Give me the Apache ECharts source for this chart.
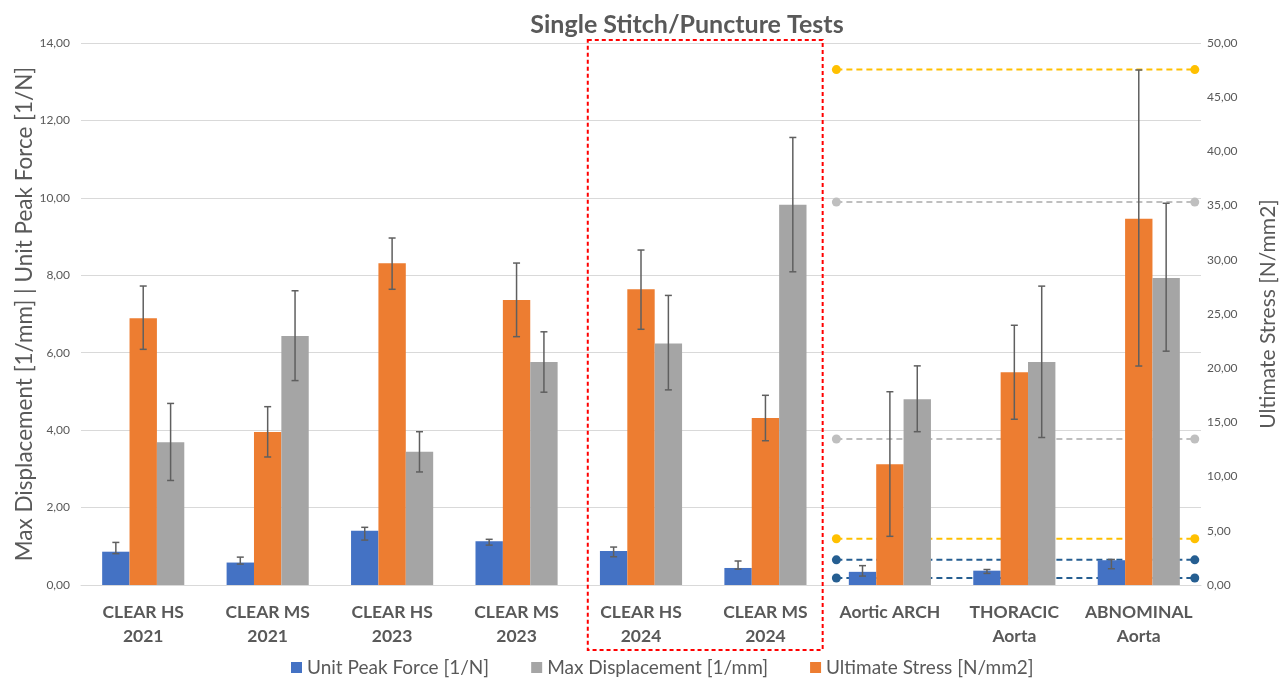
<!DOCTYPE html>
<html>
<head>
<meta charset="utf-8">
<script src="https://cdn.jsdelivr.net/npm/echarts@6/dist/echarts.min.js"></script>
<style>
html,body{margin:0;padding:0;background:#fff;}
#chart{width:1286px;height:686px;}
</style>
</head>
<body>
<div id="chart"></div>
<script>
// ---- data ----
const categories = ['CLEAR HS\n2021', 'CLEAR MS\n2021', 'CLEAR HS\n2023', 'CLEAR MS\n2023', 'CLEAR HS\n2024', 'CLEAR MS\n2024', 'Aortic ARCH', 'THORACIC\nAorta', 'ABNOMINAL\nAorta'];
const seriesNames = ['Unit Peak Force [1/N]', 'Max Displacement [1/mm]', 'Ultimate Stress [N/mm2]'];

const peakForce     = [0.86, 0.58, 1.40, 1.13, 0.88, 0.44, 0.34, 0.37, 0.64];
const peakForceLow  = [0.81, 0.54, 1.16, 1.03, 0.73, 0.41, 0.23, 0.30, 0.42];
const peakForceHigh = [1.10, 0.72, 1.49, 1.18, 0.98, 0.62, 0.50, 0.40, 0.66];

const displacement     = [3.69, 6.43, 3.44, 5.76, 6.24, 9.82, 4.80, 5.76, 7.93];
const displacementLow  = [2.70, 5.28, 2.92, 4.98, 5.04, 8.09, 3.96, 3.81, 6.04];
const displacementHigh = [4.69, 7.60, 3.96, 6.54, 7.48, 11.56, 5.66, 7.72, 9.86];

const stress     = [24.60, 14.11, 29.68, 26.29, 27.28, 15.41, 11.13, 19.62, 33.79];
const stressLow  = [21.74, 11.81, 27.28, 22.91, 23.59, 13.31, 4.49, 15.29, 20.20];
const stressHigh = [27.58, 16.45, 32.01, 29.70, 30.90, 17.50, 17.83, 23.96, 47.51];

// reference range lines (x in category units on a hidden value axis)
const refX = [6.07, 8.95];
const stressRefLevels = [47.55, 4.27];      // right axis
const displacementRefLevels = [9.89, 3.77]; // left axis
const forceRefLevels = [0.65, 0.18];        // left axis

const leftTicks = {min: 0, max: 14, interval: 2};
const rightTicks = {min: 0, max: 50, interval: 5};

// ---- style ----
const FONT = 'Lato, "Open Sans", sans-serif';
const TXT = '#595959';
const C_BLUE = '#4472C4', C_ORANGE = '#ED7D31', C_GRAY = '#A5A5A5';
const C_YEL = '#FFC000', C_LGRAY = '#BFBFBF', C_DBLUE = '#255E91';
const GAP = 0.34;

function errSeries(name, low, high, yIdx, slot) {
  return {
    type: 'custom', name: name + ' err', yAxisIndex: yIdx, xAxisIndex: 0, z: 5, silent: true,
    data: low.map((l, i) => [i, l, high[i]]),
    renderItem: function (params, api) {
      const band = api.size([1, 0])[0];
      const bw = band * (1 - GAP) / 3;
      const cx = api.coord([api.value(0), 0])[0] + (slot - 1) * bw;
      const y1 = api.coord([api.value(0), api.value(1)])[1];
      const y2 = api.coord([api.value(0), api.value(2)])[1];
      const st = {stroke: '#5f5f5f', lineWidth: 1.5};
      return {type: 'group', children: [
        {type: 'line', shape: {x1: cx, y1: y1, x2: cx, y2: y2}, style: st},
        {type: 'line', shape: {x1: cx - 3.5, y1: y1, x2: cx + 3.5, y2: y1}, style: st},
        {type: 'line', shape: {x1: cx - 3.5, y1: y2, x2: cx + 3.5, y2: y2}, style: st}
      ]};
    }
  };
}

function refLine(level, color, yIdx) {
  return {
    type: 'line', xAxisIndex: 1, yAxisIndex: yIdx, z: 1, silent: true,
    data: refX.map(x => [x, level]),
    symbol: 'circle', symbolSize: 9,
    itemStyle: {color: color},
    lineStyle: {color: color, width: 2, type: [6, 4]}
  };
}

const fmt = v => v.toFixed(2).replace('.', ',');

const chart = echarts.init(document.getElementById('chart'), null, {renderer: 'canvas'});
const option = {
  animation: false,
  backgroundColor: '#fff',
  textStyle: {fontFamily: FONT},
  title: {
    text: 'Single Stitch/Puncture Tests', left: 682, top: 7, textAlign: 'center',
    textStyle: {fontFamily: FONT, fontSize: 25, fontWeight: 'bold', color: TXT}
  },
  legend: {
    data: seriesNames, bottom: 4, left: 286, icon: 'rect', itemWidth: 11, itemHeight: 11, itemGap: 42,
    textStyle: {fontFamily: FONT, fontSize: 19, color: TXT}
  },
  grid: {left: 81, right: 85, top: 43, bottom: 101, containLabel: false, outerBoundsMode: 'none'},
  xAxis: [
    {
      type: 'category', data: categories,
      axisLine: {show: true, lineStyle: {color: '#D9D9D9'}}, axisTick: {show: false},
      axisLabel: {fontFamily: FONT, fontSize: 17.5, fontWeight: 'bold', color: TXT, lineHeight: 24, margin: 15, interval: 0}
    },
    {type: 'value', min: 0, max: 9, show: false}
  ],
  yAxis: [
    {
      type: 'value', min: leftTicks.min, max: leftTicks.max, interval: leftTicks.interval,
      name: 'Max Displacement [1/mm] | Unit Peak Force [1/N]', nameLocation: 'middle', nameGap: 45, nameRotate: 90,
      nameMoveOverlap: false,
      nameTextStyle: {fontFamily: FONT, fontSize: 22.5, color: TXT},
      axisLabel: {formatter: fmt, fontFamily: FONT, fontSize: 12, color: TXT, margin: 11},
      axisLine: {show: false}, axisTick: {show: false},
      splitLine: {lineStyle: {color: '#D9D9D9', width: 1}}
    },
    {
      type: 'value', min: rightTicks.min, max: rightTicks.max, interval: rightTicks.interval, position: 'right',
      name: 'Ultimate Stress [N/mm2]', nameLocation: 'middle', nameGap: 57, nameRotate: 90,
      nameMoveOverlap: false,
      nameTextStyle: {fontFamily: FONT, fontSize: 21, color: TXT},
      axisLabel: {formatter: fmt, fontFamily: FONT, fontSize: 12, color: TXT, margin: 6},
      axisLine: {show: false}, axisTick: {show: false},
      splitLine: {show: false}
    }
  ],
  series: [
    refLine(stressRefLevels[0], C_YEL, 1),
    refLine(stressRefLevels[1], C_YEL, 1),
    refLine(displacementRefLevels[0], C_LGRAY, 0),
    refLine(displacementRefLevels[1], C_LGRAY, 0),
    refLine(forceRefLevels[0], C_DBLUE, 0),
    refLine(forceRefLevels[1], C_DBLUE, 0),
    {name: seriesNames[0], type: 'bar', data: peakForce, yAxisIndex: 0, z: 2, itemStyle: {color: C_BLUE}, barGap: '0%', barCategoryGap: (GAP * 100) + '%'},
    {name: seriesNames[2], type: 'bar', data: stress, yAxisIndex: 1, z: 2, itemStyle: {color: C_ORANGE}, barGap: '0%', barCategoryGap: (GAP * 100) + '%'},
    {name: seriesNames[1], type: 'bar', data: displacement, yAxisIndex: 0, z: 2, itemStyle: {color: C_GRAY}, barGap: '0%', barCategoryGap: (GAP * 100) + '%'},
    errSeries('force', peakForceLow, peakForceHigh, 0, 0),
    errSeries('stress', stressLow, stressHigh, 1, 1),
    errSeries('disp', displacementLow, displacementHigh, 0, 2)
  ]
};
chart.setOption(option);

// red dashed highlight box around the 2024 groups
const highlight = [4, 5];
const band = chart.convertToPixel({xAxisIndex: 0}, 1) - chart.convertToPixel({xAxisIndex: 0}, 0);
const xL = chart.convertToPixel({xAxisIndex: 0}, highlight[0]) - band / 2 + 9;
const xR = chart.convertToPixel({xAxisIndex: 0}, highlight[1]) + band / 2 - 5;
const yT = chart.convertToPixel({yAxisIndex: 0}, leftTicks.max) - 3;
const yB = chart.convertToPixel({yAxisIndex: 0}, leftTicks.min) + 65;
chart.setOption({
  graphic: [{
    type: 'rect', z: 10, silent: true,
    shape: {x: xL, y: yT, width: xR - xL, height: yB - yT},
    style: {fill: 'none', stroke: '#FF0000', lineWidth: 2, lineDash: [4, 3]}
  }]
});
</script>
</body>
</html>
